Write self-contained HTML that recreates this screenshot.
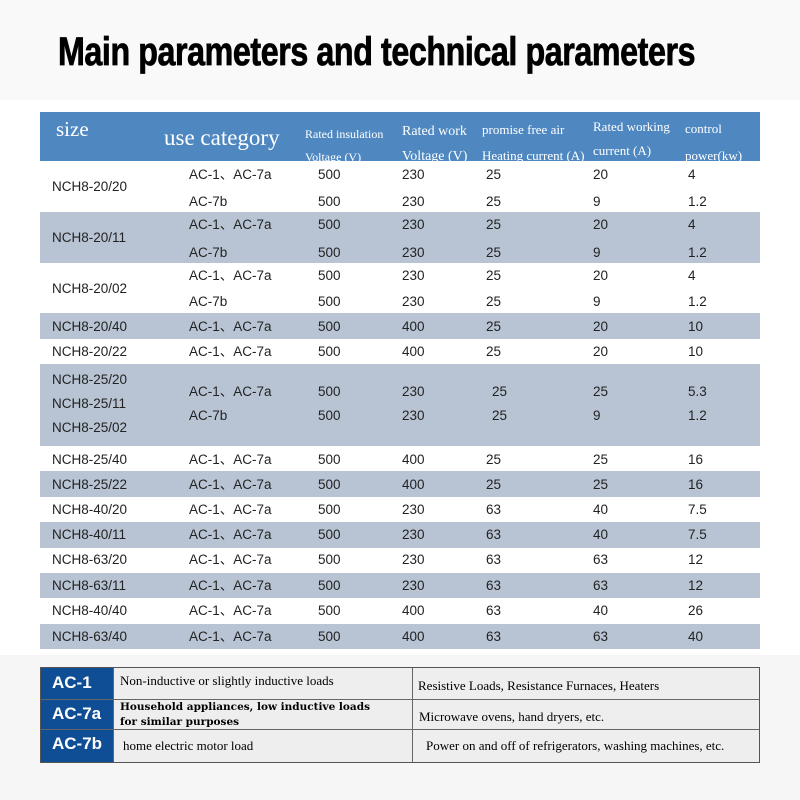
<!DOCTYPE html>
<html><head><meta charset="utf-8"><style>
body{margin:0;width:800px;height:800px;background:#fff;position:relative;overflow:hidden;font-family:"Liberation Sans","Noto Sans CJK SC",sans-serif;}
.a{position:absolute;white-space:nowrap;}
.t{font-size:13.5px;color:#222;line-height:18px;height:18px;}
.h{font-family:"Liberation Serif",serif;color:#fff;}
.band{position:absolute;left:40px;width:720px;}
</style></head><body>
<div class="a" style="left:0;top:0;width:800px;height:100px;background:#f9f9f9"></div>
<div class="a" style="left:58px;top:30px;font-size:40px;font-weight:bold;color:#000;transform:scaleX(0.805);transform-origin:left top;letter-spacing:-0.5px;-webkit-text-stroke:0.8px #000">Main parameters and technical parameters</div>
<div class="band" style="top:112px;height:49px;background:#4f88c1;overflow:hidden"></div>
<div class="a h" style="left:56px;top:117px;font-size:21px;line-height:24px">size</div>
<div class="a h" style="left:164px;top:125px;font-size:23px;line-height:26px">use category</div>
<div class="a h" style="left:305px;top:123px;font-size:12px;line-height:23px;height:38px;overflow:hidden">Rated insulation<br>Voltage (V)</div>
<div class="a h" style="left:402px;top:119px;font-size:14px;line-height:25px">Rated work<br>Voltage (V)</div>
<div class="a h" style="left:482px;top:117px;font-size:13px;line-height:26px">promise free air<br>Heating current (A)</div>
<div class="a h" style="left:593px;top:115px;font-size:13px;line-height:24px">Rated working<br>current (A)</div>
<div class="a h" style="left:685px;top:115px;font-size:13px;line-height:27px;height:46px;overflow:hidden">control<br>power(kw)</div>
<div id="rows"></div>
<div class="a" style="left:0;top:655px;width:800px;height:145px;background:#f6f6f6"></div>
<div class="a" style="left:40px;top:667px;width:718px;height:94px;border:1px solid #555;background:#eee"></div>
<div class="a" style="left:41px;top:668px;width:72px;height:94px;background:#0f4e95"></div>
<div class="a" style="left:41px;top:699px;width:718px;height:1px;background:#666"></div>
<div class="a" style="left:41px;top:729px;width:718px;height:1px;background:#666"></div>
<div class="a" style="left:113px;top:668px;width:1px;height:94px;background:#666"></div>
<div class="a" style="left:412px;top:668px;width:1px;height:94px;background:#666"></div>
<div class="a" style="left:52px;top:673px;font-size:17px;color:#fff;font-weight:bold">AC-1</div>
<div class="a" style="left:52px;top:704px;font-size:17px;color:#fff;font-weight:bold">AC-7a</div>
<div class="a" style="left:52px;top:734px;font-size:17px;color:#fff;font-weight:bold">AC-7b</div>
<div class="a" style="left:120px;top:673px;font-size:13px;font-family:'Liberation Serif',serif">Non-inductive or slightly inductive loads</div>
<div class="a" style="left:120px;top:700px;font-size:10.5px;font-family:'DejaVu Serif',serif;font-weight:bold;line-height:15px">Household appliances, low inductive loads<br>for similar purposes</div>
<div class="a" style="left:123px;top:738px;font-size:13px;font-family:'Liberation Serif',serif">home electric motor load</div>
<div class="a" style="left:418px;top:678px;font-size:13px;font-family:'Liberation Serif',serif">Resistive Loads, Resistance Furnaces, Heaters</div>
<div class="a" style="left:419px;top:709px;font-size:13px;font-family:'Liberation Serif',serif">Microwave ovens, hand dryers, etc.</div>
<div class="a" style="left:426px;top:738px;font-size:13px;font-family:'Liberation Serif',serif">Power on and off of refrigerators, washing machines, etc.</div>
<script>
var bands=[[161,51,0],[212,51,1],[263,50,0],[313,26,1],[339,25,0],[364,82,1],[446,25,0],[471,26,1],[497,25,0],[522,26,1],[548,25,0],[573,25,1],[598,26,0],[624,25,1]];
var sizes=[["NCH8-20/20",187],["NCH8-20/11",238],["NCH8-20/02",289],["NCH8-20/40",327],["NCH8-20/22",352],["NCH8-25/20",380],["NCH8-25/11",404],["NCH8-25/02",428],["NCH8-25/40",460],["NCH8-25/22",485],["NCH8-40/20",510],["NCH8-40/11",535],["NCH8-63/20",560],["NCH8-63/11",586],["NCH8-40/40",611],["NCH8-63/40",637]];
var rows=[
[175,"AC-1、AC-7a","500","230","25","20","4"],[202,"AC-7b","500","230","25","9","1.2"],
[225,"AC-1、AC-7a","500","230","25","20","4"],[253,"AC-7b","500","230","25","9","1.2"],
[276,"AC-1、AC-7a","500","230","25","20","4"],[302,"AC-7b","500","230","25","9","1.2"],
[327,"AC-1、AC-7a","500","400","25","20","10"],[352,"AC-1、AC-7a","500","400","25","20","10"],
[392,"AC-1、AC-7a","500","230"," 25","25","5.3"],[416,"AC-7b","500","230"," 25","9","1.2"],
[460,"AC-1、AC-7a","500","400","25","25","16"],[485,"AC-1、AC-7a","500","400","25","25","16"],
[510,"AC-1、AC-7a","500","230","63","40","7.5"],[535,"AC-1、AC-7a","500","230","63","40","7.5"],
[560,"AC-1、AC-7a","500","230","63","63","12"],[586,"AC-1、AC-7a","500","230","63","63","12"],
[611,"AC-1、AC-7a","500","400","63","40","26"],[637,"AC-1、AC-7a","500","400","63","63","40"]];
var cols=[189,318,402,486,593,688];
var c=document.getElementById('rows');
bands.forEach(function(b){var d=document.createElement('div');d.className='band';


d.style.top=b[0]+'px';d.style.height=b[1]+'px';d.style.background=b[2]?'#b8c4d4':'#fff';c.appendChild(d);});
sizes.forEach(function(s){var d=document.createElement('div');d.className='a t';


d.style.left='52px';d.style.top=(s[1]-9)+'px';d.textContent=s[0];c.appendChild(d);});
rows.forEach(function(r){for(var i=0;i<6;i++){var d=document.createElement('div');d.className='a t';


d.style.left=(cols[i]+(r[i+1].charAt(0)==' '?6:0))+'px';d.style.top=(r[0]-9)+'px';d.textContent=r[i+1].trim();c.appendChild(d);}});
</script>
</body></html>
